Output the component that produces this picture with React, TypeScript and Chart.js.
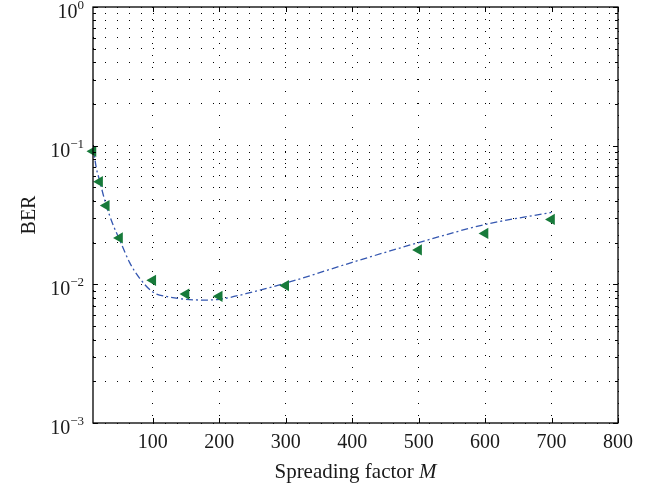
import { useEffect, useRef } from 'react';
import { Chart, registerables } from 'chart.js';

Chart.register(...registerables);

// Measured markers (left-pointing triangles)
const markerM = [10, 20, 30, 50, 100, 150, 200, 300, 500, 600, 700];
const markerBER = [0.091, 0.055, 0.037, 0.0216, 0.0107, 0.0085, 0.0082, 0.0098, 0.0177, 0.0233, 0.0294];

// Analytical curve (dash-dot)
const curveM = [10, 15, 20, 25, 30, 40, 50, 65, 80, 100, 125, 150, 175, 200, 250, 300, 400, 500, 600, 700];
const curveBER = [0.1, 0.069, 0.056, 0.045, 0.037, 0.027, 0.021, 0.0144, 0.0111, 0.0088, 0.0081, 0.0078, 0.0077, 0.0078, 0.0088, 0.0102, 0.0144, 0.0200, 0.0270, 0.0330];

// Axis ticks
const xTickValues = [100, 200, 300, 400, 500, 600, 700, 800];
const xTickLabels = ['100', '200', '300', '400', '500', '600', '700', '800'];
const yDecades = [-3, -2, -1, 0];
const yExpLabels = ['−3', '−2', '−1', '0'];
const yMinorMultipliers = [2, 3, 4, 5, 6, 7, 8, 9];

const xTitle = 'Spreading factor ';
const xTitleItalic = 'M';
const yTitle = 'BER';

const SERIF = '"Liberation Serif", "DejaVu Serif", serif';

function yTickValues(): number[] {
  const out: number[] = [];
  for (let i = 0; i < yDecades.length; i++) {
    const base = Math.pow(10, yDecades[i]);
    out.push(base);
    if (i < yDecades.length - 1) {
      for (const m of yMinorMultipliers) out.push(+(m * base).toPrecision(3));
    }
  }
  return out;
}

const decorPlugin = {
  id: 'decor',
  afterDraw(chart: any) {
    const { ctx, chartArea } = chart;
    const xs = chart.scales.x;
    const ys = chart.scales.y;
    const { left, right, top, bottom } = chartArea;
    ctx.save();
    ctx.strokeStyle = '#000';
    ctx.lineWidth = 1.3;
    ctx.setLineDash([]);
    ctx.strokeRect(left, top, right - left, bottom - top);

    // x ticks (inward, bottom and top)
    ctx.lineWidth = 1;
    for (const v of xTickValues) {
      const px = Math.round(xs.getPixelForValue(v)) + 0.5;
      ctx.beginPath();
      ctx.moveTo(px, bottom);
      ctx.lineTo(px, bottom - 5);
      ctx.moveTo(px, top);
      ctx.lineTo(px, top + 5);
      ctx.stroke();
    }
    // y ticks (inward, left and right)
    for (const v of yTickValues()) {
      const py = Math.round(ys.getPixelForValue(v)) + 0.5;
      const major = Math.abs(Math.log10(v) - Math.round(Math.log10(v))) < 1e-6;
      const len = major ? 5 : 3;
      ctx.beginPath();
      ctx.moveTo(left, py);
      ctx.lineTo(left + len, py);
      ctx.moveTo(right, py);
      ctx.lineTo(right - len, py);
      ctx.stroke();
    }

    ctx.fillStyle = '#1a1a1a';
    // x tick labels
    ctx.font = `20px ${SERIF}`;
    ctx.textAlign = 'center';
    ctx.textBaseline = 'alphabetic';
    xTickValues.forEach((v, i) => {
      const px = xs.getPixelForValue(v);
      ctx.fillText(xTickLabels[i], px, bottom + 25);
    });

    // y tick labels: 10^k
    yDecades.forEach((d, i) => {
      const py = ys.getPixelForValue(Math.pow(10, d));
      ctx.font = `13px ${SERIF}`;
      const expW = ctx.measureText(yExpLabels[i]).width;
      ctx.font = `20px ${SERIF}`;
      const baseW = ctx.measureText('10').width;
      const rightX = left - 9;
      ctx.textAlign = 'left';
      ctx.fillText('10', rightX - expW - baseW, py + 11);
      ctx.font = `13px ${SERIF}`;
      ctx.fillText(yExpLabels[i], rightX - expW, py + 2);
    });

    // x title with italic M
    ctx.font = `21px ${SERIF}`;
    const w1 = ctx.measureText(xTitle).width;
    ctx.font = `italic 21px ${SERIF}`;
    const w2 = ctx.measureText(xTitleItalic).width;
    const cx = (left + right) / 2;
    const sx = cx - (w1 + w2) / 2;
    ctx.textAlign = 'left';
    ctx.font = `21px ${SERIF}`;
    ctx.fillText(xTitle, sx, bottom + 55);
    ctx.font = `italic 21px ${SERIF}`;
    ctx.fillText(xTitleItalic, sx + w1, bottom + 55);

    // y title
    ctx.save();
    ctx.translate(30, (top + bottom) / 2);
    ctx.rotate(-Math.PI / 2);
    ctx.font = `20px ${SERIF}`;
    ctx.textAlign = 'center';
    ctx.textBaseline = 'middle';
    ctx.fillText(yTitle, 0, 0);
    ctx.restore();

    ctx.restore();
  },
};

export default function App() {
  const canvasRef = useRef<HTMLCanvasElement | null>(null);

  useEffect(() => {
    const canvas = canvasRef.current;
    if (!canvas) return;
    const chart = new Chart(canvas, {
      type: 'line',
      data: {
        datasets: [
          {
            label: 'Simulation',
            data: markerM.map((m, i) => ({ x: m, y: markerBER[i] })),
            showLine: false,
            pointStyle: 'triangle',
            rotation: -90,
            pointRadius: 6.5,
            pointBackgroundColor: '#177a3a',
            pointBorderColor: '#177a3a',
            pointBorderWidth: 0,
            clip: false as any,
          },
          {
            label: 'Analysis',
            data: curveM.map((m, i) => ({ x: m, y: curveBER[i] })),
            borderColor: '#3557b0',
            borderWidth: 1.3,
            borderDash: [7, 3, 2, 3],
            pointRadius: 0,
            fill: false,
            cubicInterpolationMode: 'monotone',
          },
        ],
      },
      options: {
        responsive: false,
        animation: false,
        layout: { padding: { left: 93, right: 42, top: 7, bottom: 66 } },
        plugins: { legend: { display: false }, tooltip: { enabled: false } },
        scales: {
          x: {
            type: 'linear',
            min: 10,
            max: 800,
            afterBuildTicks: (scale: any) => {
              scale.ticks = xTickValues.map((v) => ({ value: v }));
            },
            ticks: { display: false },
            grid: { display: true, drawTicks: false, color: '#000', lineWidth: 1 },
            border: { display: false, dash: [1, 11] },
          },
          y: {
            type: 'logarithmic',
            min: 0.001,
            max: 1,
            afterBuildTicks: (scale: any) => {
              scale.ticks = yTickValues().map((v) => ({ value: v }));
            },
            ticks: { display: false },
            grid: { display: true, drawTicks: false, color: '#000', lineWidth: 1 },
            border: { display: false, dash: [1, 11] },
          },
        },
      },
      plugins: [decorPlugin],
    } as any);
    return () => chart.destroy();
  }, []);

  return (
    <div style={{ position: 'absolute', left: 0, top: 0, width: 660, height: 489, background: '#fff' }}>
      <canvas ref={canvasRef} width={660} height={489} style={{ display: 'block', width: 660, height: 489 }} />
    </div>
  );
}
